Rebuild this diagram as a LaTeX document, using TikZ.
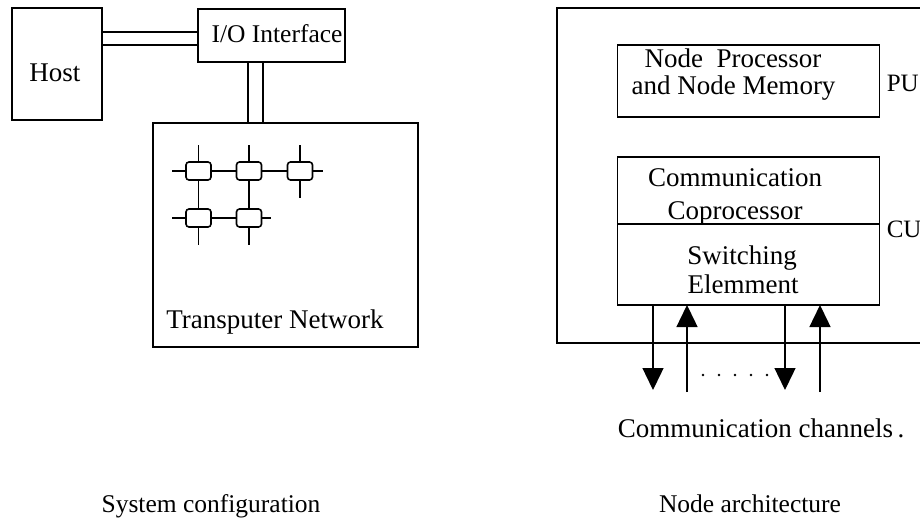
\documentclass[tikz,border=0pt]{standalone}
\usepackage{fontspec}
\setmainfont{Liberation Serif}
\usetikzlibrary{arrows.meta}
\begin{document}
\begin{tikzpicture}[x=1pt,y=-1pt,line width=1.6pt,
  box/.style={draw,inner sep=0pt,outer sep=0pt},
  cell/.style={draw,rounded corners=3pt,minimum width=25pt,minimum height=18pt,inner sep=0pt,outer sep=0pt},
  lbl/.style={anchor=base,inner sep=0pt,font=\fontsize{27}{32}\selectfont},
  side/.style={anchor=base west,inner sep=0pt,font=\fontsize{25}{30}\selectfont},
  captxt/.style={anchor=base,inner sep=0pt,font=\fontsize{25.5}{30}\selectfont},
  chan/.style={-{Triangle[length=22pt,width=21pt]},line width=1.4pt}]
\useasboundingbox (0,0) rectangle (920,529);

% ---------- system configuration ----------
\node[box,minimum width=90pt,minimum height=112pt] (host) at (57,64) {};
\node[box,minimum width=147pt,minimum height=53pt] (io) at (271.5,35.5) {};
\node[box,minimum width=265pt,minimum height=224pt] (net) at (285.5,235) {};

\node[lbl] (hostT) at (55,82) {Host};
\node[lbl,font=\fontsize{25.5}{30}\selectfont] (ioT) at (277,43) {I/O Interface};
\node[lbl] (netT) at (275,328) {Transputer Network};

% double links host -- I/O -- network
\draw (host.east |- 0,32) -- (io.west |- 0,32);
\draw (host.east |- 0,45) -- (io.west |- 0,45);
\draw (io.south -| 248,0) -- (net.north -| 248,0);
\draw (io.south -| 263,0) -- (net.north -| 263,0);

% transputer grid
\node[cell] (t1) at (198.5,171) {};
\node[cell] (t2) at (249,171) {};
\node[cell] (t3) at (300,171) {};
\node[cell] (t4) at (198.5,218) {};
\node[cell] (t5) at (249,218) {};
\draw (t1) -- (t2);
\draw (t2) -- (t3);
\draw (t4) -- (t5);
\draw (t1) -- (t4);
\draw (t2) -- (t5);
\draw (t1.north) -- ++(0,-17);
\draw (t2.north) -- ++(0,-17);
\draw (t3.north) -- ++(0,-17);
\draw (t1.west) -- ++(-14,0);
\draw (t4.west) -- ++(-14,0);
\draw (t3.east) -- ++(10,0);
\draw (t5.east) -- ++(9,0);
\draw (t3.south) -- ++(0,18);
\draw (t4.south) -- ++(0,18);
\draw (t5.south) -- ++(0,18);

% ---------- node architecture ----------
\draw (921,8) -- (557,8) -- (557,343) -- (921,343);
\node[box,minimum width=262pt,minimum height=72pt] (pu) at (748.5,81) {};
\node[box,minimum width=262pt,minimum height=148pt] (cu) at (748.5,231) {};
\draw (cu.west |- 0,224) -- (cu.east |- 0,224);

\node[lbl] (np1) at (733,68) {Node\ \ Processor};
\node[lbl] (np2) at (733.5,95) {and Node Memory};
\node[lbl] (cc1) at (735,187) {Communication};
\node[lbl] (cc2) at (735,220) {Coprocessor};
\node[lbl] (se1) at (742,264) {Switching};
\node[lbl] (se2) at (743,293) {Elemment};
\node[side] (puT) at (886,92) {PU};
\node[side] (cuT) at (886,237) {CU};

% communication channels
\coordinate (c1) at (653,390);
\coordinate (c2) at (687,392);
\coordinate (c3) at (785,390);
\coordinate (c4) at (820,392);
\draw[chan] (cu.south -| c1) -- (c1);
\draw[chan] (c2) -- (cu.south -| c2);
\draw[chan] (cu.south -| c3) -- (c3);
\draw[chan] (c4) -- (cu.south -| c4);
\foreach \x in {703,719,735,751,767} \fill (\x,375) circle (1.3pt);

\node[lbl] (chT) at (761,437) {Communication channels\,.};

% captions
\node[captxt] (capL) at (211,512) {System configuration};
\node[captxt] (capR) at (750,512) {Node architecture};
\end{tikzpicture}
\end{document}
